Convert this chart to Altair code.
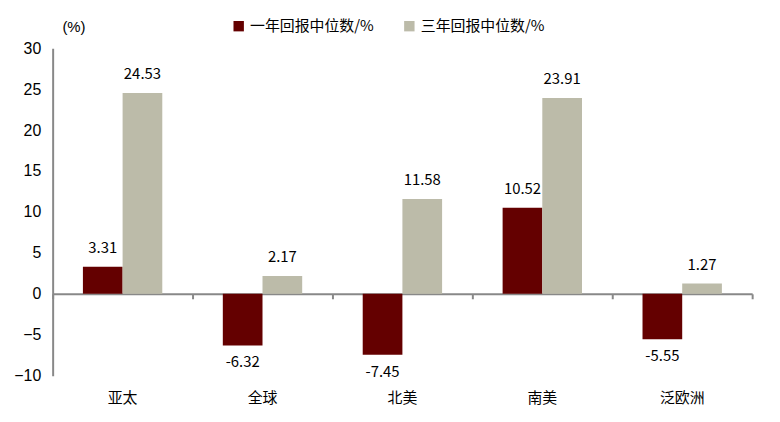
import altair as alt
import pandas as pd

regions = ["亚太", "全球", "北美", "南美", "泛欧洲"]
series = ["一年回报中位数/%", "三年回报中位数/%"]
one_year = [3.31, -6.32, -7.45, 10.52, -5.55]
three_year = [24.53, 2.17, 11.58, 23.91, 1.27]
colors = ["#640000", "#BCBBA9"]

rows = []
for i, r in enumerate(regions):
    rows.append({"region": r, "series": series[0], "value": one_year[i]})
    rows.append({"region": r, "series": series[1], "value": three_year[i]})
df = pd.DataFrame(rows)
df["label"] = df["value"].map(lambda v: f"{v:.2f}")

W, H = 705, 330
YMIN, YMAX = -10, 30
zero_offset = -H * (0 - YMIN) / (YMAX - YMIN)

cjk = "Noto Sans CJK SC"
num = "Liberation Sans"

xscale = alt.Scale(domain=regions, paddingInner=0, paddingOuter=0)
xoff_scale = alt.Scale(paddingInner=0, paddingOuter=0.7625)
yscale = alt.Scale(domain=[YMIN, YMAX], nice=False)

x_enc = alt.X("region:N", scale=xscale, sort=regions,
              axis=alt.Axis(title=None, domain=False, ticks=False, labelAngle=0,
                            labelFont=cjk, labelFontSize=15, labelColor="#000000",
                            labelPadding=15))
y_enc = alt.Y("value:Q", scale=yscale,
              axis=alt.Axis(title="(%)", titleAngle=0, titleX=21, titleY=-14,
                            titleAlign="center", titleFont=num, titleFontSize=15,
                            titleFontWeight="normal", titleColor="#000000",
                            values=list(range(-10, 31, 5)), grid=False, ticks=False,
                            domainColor="#888888", domainWidth=2,
                            labelFont=num, labelFontSize=16, labelColor="#000000",
                            labelPadding=12))

bars = alt.Chart(df).mark_bar().encode(
    x=x_enc,
    xOffset=alt.XOffset("series:N", sort=series, scale=xoff_scale),
    y=y_enc,
    color=alt.Color("series:N", sort=series,
                    scale=alt.Scale(domain=series, range=colors),
                    legend=alt.Legend(title=None, orient="none", legendX=180, legendY=-30,
                                      direction="horizontal", symbolType="square",
                                      symbolSize=110, symbolStrokeWidth=0,
                                      labelFont=cjk, labelFontSize=15, labelColor="#000000",
                                      columnPadding=28, labelOffset=4)),
)

pos = alt.Chart(df).transform_filter("datum.value >= 0").mark_text(
    baseline="bottom", dy=-11, font=cjk, fontSize=15, color="#000000"
).encode(
    x=alt.X("region:N", scale=xscale, sort=regions, axis=None),
    xOffset=alt.XOffset("series:N", sort=series, scale=xoff_scale),
    y=alt.Y("value:Q", scale=yscale),
    text="label:N",
)
neg = alt.Chart(df).transform_filter("datum.value < 0").mark_text(
    baseline="top", dy=10, font=cjk, fontSize=15, color="#000000"
).encode(
    x=alt.X("region:N", scale=xscale, sort=regions, axis=None),
    xOffset=alt.XOffset("series:N", sort=series, scale=xoff_scale),
    y=alt.Y("value:Q", scale=yscale),
    text="label:N",
)

zero_axis = alt.Chart(pd.DataFrame({"region": regions})).mark_point(opacity=0).encode(
    x=alt.X("region:N", scale=xscale, sort=regions,
            axis=alt.Axis(title=None, orient="bottom", offset=zero_offset, labels=False,
                          domain=True, domainColor="#888888", domainWidth=2,
                          ticks=True, tickBand="extent", tickColor="#888888",
                          tickWidth=2, tickSize=5)),
)

chart = alt.layer(bars, pos, neg, zero_axis).resolve_axis(x="independent").properties(
    width=W, height=H,
    autosize=alt.AutoSizeParams(type="none"),
    padding={"left": 45, "top": 39, "right": 20, "bottom": 30},
).configure(background="#ffffff").configure_view(stroke=None)

chart.save("out.html", embed_options={"renderer": "svg", "actions": False})
